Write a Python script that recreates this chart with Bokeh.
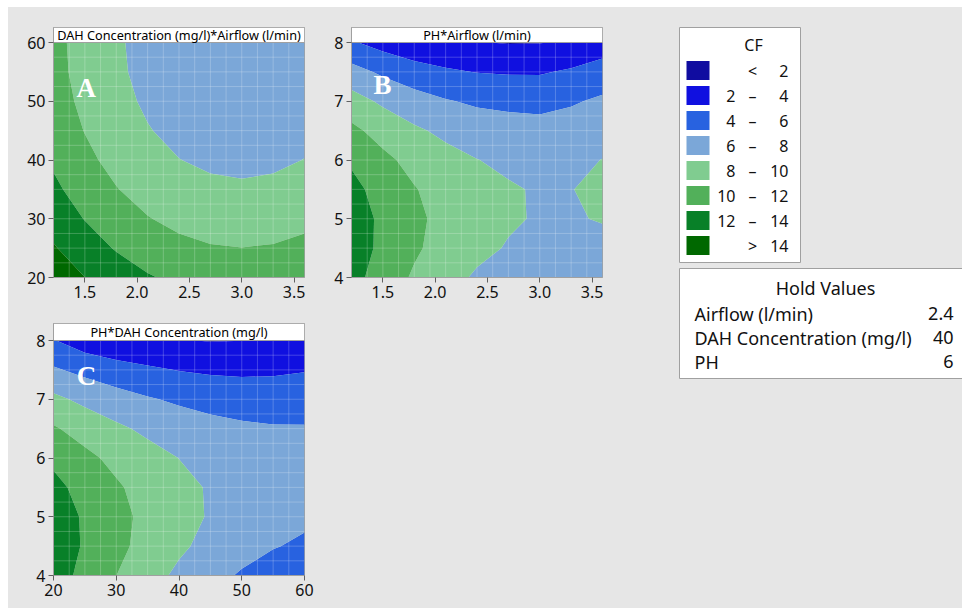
import numpy as np
from bokeh.plotting import figure
from bokeh.layouts import row, column
from bokeh.models import Range1d, FixedTicker, Label, Spacer, PrintfTickFormatter
from bokeh.core.properties import value
from bokeh.embed import file_html
from bokeh.resources import INLINE

# ---- CF bands -------------------------------------------------------------
cf_levels = [0, 2, 4, 6, 8, 10, 12, 14, 16]
cf_colors = ["#100ca0", "#1010e0", "#2862e0", "#7ba7d8",
             "#80cc90", "#52b05a", "#088028", "#006800"]
cf_lo = ["", "2", "4", "6", "8", "10", "12", ""]
cf_mid = ["<", "\u2013", "\u2013", "\u2013", "\u2013", "\u2013", "\u2013", ">"]
cf_hi = ["2", "4", "6", "8", "10", "12", "14", "14"]

# ---- factor grids -----------------------------------------------------------
airflow = [1.2, 1.5, 1.8, 2.1, 2.4, 2.7, 3.0, 3.3, 3.6]
dah = [20, 25, 30, 35, 40, 45, 50, 55, 60]
ph = [4.0, 4.5, 5.0, 5.5, 6.0, 6.5, 7.0, 7.5, 8.0]

airflow_ticks = [1.5, 2.0, 2.5, 3.0, 3.5]
dah_ticks = [20, 30, 40, 50, 60]
ph_ticks = [4, 5, 6, 7, 8]

# CF, rows = DAH, columns = Airflow (PH held at 6)
cf_dah_airflow = [
    [15.28, 14.01, 12.97, 12.17, 11.59, 11.25, 11.13, 11.25, 11.59],
    [14.17, 12.90, 11.86, 11.06, 10.48, 10.14, 10.02, 10.14, 10.48],
    [13.20, 11.93, 10.89, 10.09, 9.51, 9.17, 9.05, 9.17, 9.51],
    [12.39, 11.12, 10.08, 9.28, 8.70, 8.36, 8.24, 8.36, 8.70],
    [11.72, 10.45, 9.41, 8.61, 8.03, 7.69, 7.57, 7.69, 8.03],
    [11.21, 9.94, 8.90, 8.10, 7.52, 7.18, 7.06, 7.18, 7.52],
    [10.84, 9.57, 8.53, 7.73, 7.15, 6.81, 6.69, 6.81, 7.15],
    [10.61, 9.34, 8.30, 7.50, 6.92, 6.58, 6.46, 6.58, 6.92],
    [10.54, 9.27, 8.23, 7.43, 6.85, 6.51, 6.39, 6.51, 6.85],
]

# CF, rows = PH, columns = Airflow (DAH held at 40)
cf_ph_airflow = [
    [12.68, 11.10, 9.75, 8.64, 7.76, 7.11, 6.57, 6.45, 6.53],
    [13.05, 11.55, 10.28, 9.25, 8.44, 7.87, 7.41, 7.37, 7.52],
    [13.02, 11.60, 10.40, 9.45, 8.72, 8.22, 7.84, 7.87, 8.10],
    [12.58, 11.23, 10.11, 9.24, 8.58, 8.16, 7.86, 7.97, 8.27],
    [11.72, 10.45, 9.41, 8.61, 8.03, 7.69, 7.47, 7.65, 8.03],
    [10.46, 9.27, 8.31, 7.58, 7.08, 6.82, 6.67, 6.93, 7.39],
    [8.79, 7.67, 6.79, 6.14, 5.71, 5.53, 5.45, 5.79, 6.33],
    [6.71, 5.67, 4.86, 4.29, 3.94, 3.83, 3.83, 4.25, 4.86],
    [4.21, 3.25, 2.52, 2.25, 2.08, 1.90, 1.93, 2.29, 2.98],
]

# CF, rows = PH, columns = DAH (Airflow held at 2.4)
cf_ph_dah = [
    [12.96, 11.42, 10.01, 8.74, 7.62, 6.63, 5.79, 5.08, 4.52],
    [13.23, 11.79, 10.50, 9.34, 8.32, 7.44, 6.71, 6.11, 5.66],
    [13.09, 11.76, 10.57, 9.52, 8.62, 7.85, 7.22, 6.74, 6.39],
    [12.55, 11.32, 10.24, 9.30, 8.50, 7.84, 7.32, 6.95, 6.71],
    [11.59, 10.47, 9.50, 8.67, 7.98, 7.43, 7.02, 6.75, 6.62],
    [10.22, 9.21, 8.35, 7.62, 7.04, 6.60, 6.30, 6.14, 6.12],
    [8.44, 7.54, 6.79, 6.17, 5.70, 5.36, 5.17, 5.12, 5.21],
    [6.25, 5.46, 4.81, 4.31, 3.94, 3.72, 3.63, 3.69, 3.89],
    [4.10, 2.97, 2.43, 2.25, 2.10, 1.92, 1.99, 2.12, 2.35],
]

hold_names = ["Airflow (l/min)", "DAH Concentration (mg/l)", "PH"]
hold_values = ["2.4", "40", "6"]

# ---- styling ----------------------------------------------------------------
BG = "#e6e6e6"
EDGE = "#a0a0a0"
FONT = "Noto Sans"
FRAME_W = 251
DATA_H = 235


def contour_panel(xs, ys, z, title, xticks, yticks, xfmt, letter, letter_at,
                  title_px, left, right, top, bottom):
    x0, x1 = xs[0], xs[-1]
    y0, y1 = ys[0], ys[-1]
    frame_h = DATA_H + title_px
    y_end = y0 + (y1 - y0) * frame_h / DATA_H
    p = figure(width=left + FRAME_W + right, height=top + frame_h + bottom,
               frame_width=FRAME_W, frame_height=frame_h,
               x_range=Range1d(x0, x1), y_range=Range1d(y0, y_end),
               min_border_left=left, min_border_right=right,
               min_border_top=top, min_border_bottom=bottom,
               title=None, output_backend="svg", toolbar_location=None)
    p.background_fill_color = BG
    p.border_fill_color = BG
    p.outline_line_color = EDGE
    p.grid.visible = False

    p.contour(xs, ys, np.array(z), cf_levels, fill_color=cf_colors)

    # faint facet seams over the filled surface
    nx, ny = 16, 16
    vx = np.linspace(x0, x1, nx + 1)[1:-1]
    hy = np.linspace(y0, y1, ny + 1)[1:-1]
    p.segment(x0=vx, x1=vx, y0=[y0] * len(vx), y1=[y1] * len(vx),
              line_color="white", line_alpha=0.28, line_width=0.8)
    p.segment(x0=[x0] * len(hy), x1=[x1] * len(hy), y0=hy, y1=hy,
              line_color="white", line_alpha=0.28, line_width=0.8)

    # header strip with the factor pair
    p.quad(left=[x0], right=[x1], bottom=[y1], top=[y_end],
           fill_color="white", line_color=EDGE, line_width=1)
    p.text(x=[(x0 + x1) / 2], y=[(y1 + y_end) / 2], text=[title],
           text_align="center", text_baseline="middle",
           text_font=value(FONT), text_font_size="12.7px", text_color="black")

    for ax in (p.xaxis[0], p.yaxis[0]):
        ax.axis_line_color = EDGE
        ax.major_tick_line_color = "#606060"
        ax.major_tick_out = 5
        ax.major_tick_in = 0
        ax.minor_tick_line_color = None
        ax.major_label_text_font = FONT
        ax.major_label_text_font_size = "16px"
        ax.major_label_text_color = "#111111"
        ax.major_label_standoff = 3
    p.xaxis.ticker = FixedTicker(ticks=xticks)
    p.yaxis.ticker = FixedTicker(ticks=yticks)
    if xfmt:
        p.xaxis.formatter = PrintfTickFormatter(format=xfmt)

    p.add_layout(Label(x=letter_at[0], y=letter_at[1], text=letter,
                       text_font="Liberation Serif", text_font_style="bold",
                       text_font_size="27px", text_color="white",
                       text_baseline="alphabetic"))
    return p


pA = contour_panel(airflow, dah, cf_dah_airflow,
                   "DAH Concentration (mg/l)*Airflow (l/min)",
                   airflow_ticks, dah_ticks, "%.1f", "A", (1.42, 52.2),
                   15, 45, 16, 20, 33)

pB = contour_panel(airflow, ph, cf_ph_airflow, "PH*Airflow (l/min)",
                   airflow_ticks, ph_ticks, "%.1f", "B", (1.41, 7.27),
                   15, 31, 18, 20, 33)

pC = contour_panel(dah, ph, cf_ph_dah, "PH*DAH Concentration (mg/l)",
                   dah_ticks, ph_ticks, None, "C", (23.7, 7.39),
                   17, 45, 316, 13, 33)

# ---- legend and hold values -------------------------------------------------
L = figure(width=342, height=601, frame_width=342, frame_height=601,
           x_range=Range1d(620, 962), y_range=Range1d(608, 7),
           min_border=0, title=None, x_axis_type=None, y_axis_type=None,
           output_backend="svg", toolbar_location=None)
L.background_fill_color = BG
L.border_fill_color = BG
L.outline_line_color = None
L.grid.visible = False

txt = dict(text_font=value(FONT), text_font_size="16px", text_color="#111111",
           text_baseline="middle")
txt_hold = dict(txt, text_font_size="18px")

L.quad(left=[679], right=[800], top=[27], bottom=[262],
       fill_color="white", line_color=EDGE)
L.text(x=[753], y=[44], text=["CF"], text_align="center", **txt)
row_y = [70 + 25 * i for i in range(len(cf_colors))]
L.rect(x=[697.5] * len(cf_colors), y=row_y, width=23, height=19,
       fill_color=cf_colors, line_color=None)
L.text(x=[735] * len(cf_lo), y=row_y, text=cf_lo, text_align="right", **txt)
L.text(x=[752] * len(cf_mid), y=row_y, text=cf_mid, text_align="center", **txt)
L.text(x=[788] * len(cf_hi), y=row_y, text=cf_hi, text_align="right", **txt)

L.quad(left=[679], right=[964], top=[268], bottom=[378],
       fill_color="white", line_color=EDGE)
L.text(x=[825], y=[287], text=["Hold Values"], text_align="center", **txt_hold)
hold_y = [313 + 24 * i for i in range(len(hold_names))]
L.text(x=[694] * len(hold_names), y=hold_y, text=hold_names,
       text_align="left", **txt_hold)
L.text(x=[953] * len(hold_values), y=hold_y, text=hold_values,
       text_align="right", **txt_hold)

grey = {"background-color": BG}
panels = column(row(pA, pB, styles=grey), pC, styles=grey)
page = column(Spacer(height=7),
              row(Spacer(width=8), row(panels, L, styles=grey)))

open("out.html", "w").write(file_html(page, INLINE))
